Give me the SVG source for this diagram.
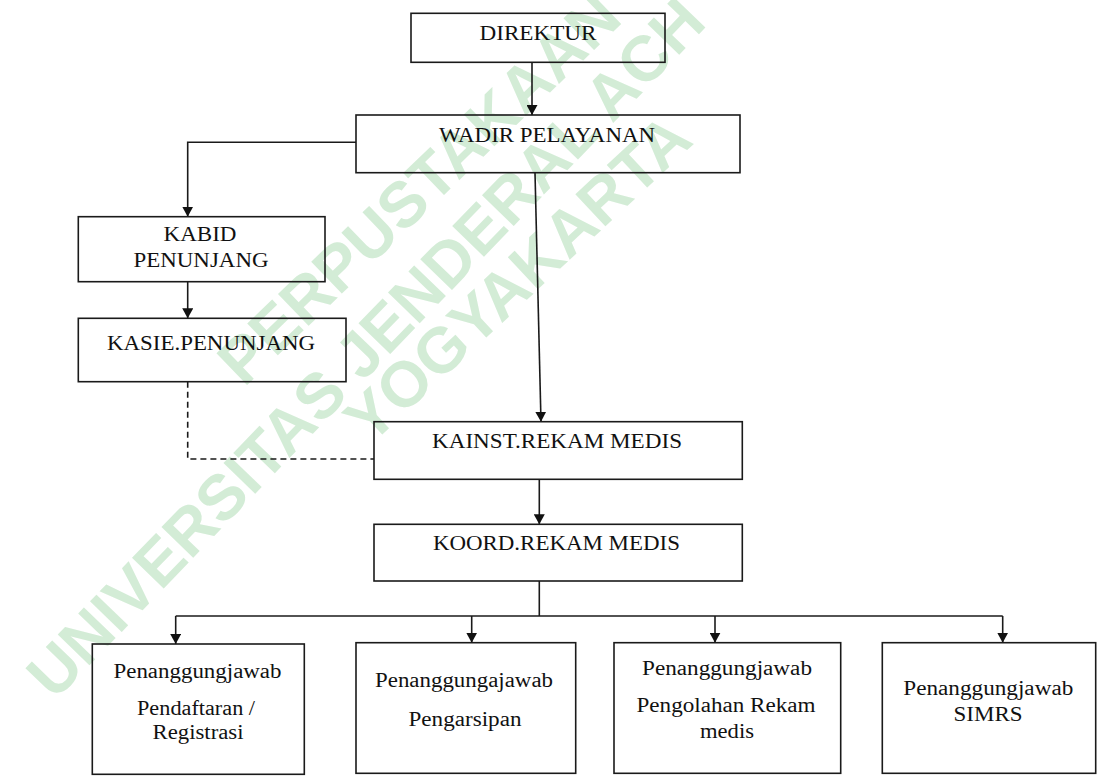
<svg xmlns="http://www.w3.org/2000/svg" width="1117" height="781" viewBox="0 0 1117 781">
  <style>
    .box { fill: none; stroke: #1a1a1a; stroke-width: 1.6; }
    .lbl { font-family: "Liberation Serif", "Times New Roman", serif; font-size: 20.5px; fill: #111; text-anchor: middle; }
    .con { fill: none; stroke: #1a1a1a; stroke-width: 1.6; }
    .dash { stroke-dasharray: 6 4; }
    .wm { font-family: "Liberation Sans", Arial, sans-serif; font-weight: bold; font-size: 64px; fill: #d3ecd6; }
  </style>
  <defs>
    <marker id="arr" markerUnits="userSpaceOnUse" viewBox="0 0 10 11" markerWidth="10" markerHeight="11" refX="10" refY="5.5" orient="auto">
      <path d="M0,0 L10,5.5 L0,11 z" fill="#111"/>
    </marker>
  </defs>
  <rect width="1117" height="781" fill="#fff"/>

  <g id="watermark">
    <text class="wm" transform="translate(244,388) rotate(-44)">PERPUSTAKAAN</text>
    <text class="wm" transform="translate(54.5,701.5) rotate(-46)">UNIVERSITAS JENDERAL ACH</text>
    <text class="wm" transform="translate(370,446) rotate(-43)">YOGYAKARTA</text>
  </g>

  <g id="connectors">
    <path class="con" d="M532,62.5 V115" marker-end="url(#arr)"/>
    <path class="con" d="M356,142.3 H187.7 V216.7" marker-end="url(#arr)"/>
    <path class="con" d="M187.7,281.7 V318.3" marker-end="url(#arr)"/>
    <path class="con dash" d="M187.7,381.7 V459 H374"/>
    <path class="con" d="M535,172.7 L541,421.7" stroke="#444" marker-end="url(#arr)"/>
    <path class="con" d="M539.3,479.3 V524.3" marker-end="url(#arr)"/>
    <path class="con" d="M539.3,581 V616"/>
    <path class="con" d="M175.7,616 H1002.7"/>
    <path class="con" d="M175.7,616 V644" marker-end="url(#arr)"/>
    <path class="con" d="M471.7,616 V642.7" marker-end="url(#arr)"/>
    <path class="con" d="M715,616 V642.7" marker-end="url(#arr)"/>
    <path class="con" d="M1002.7,616 V642.7" marker-end="url(#arr)"/>
  </g>

  <g id="direktur">
    <rect class="box" x="411" y="13.3" width="254" height="49"/>
    <text class="lbl" x="538" y="40" textLength="117" lengthAdjust="spacingAndGlyphs">DIREKTUR</text>
  </g>
  <g id="wadir">
    <rect class="box" x="356" y="115" width="384" height="57.7"/>
    <text class="lbl" x="547" y="141.5" textLength="216" lengthAdjust="spacingAndGlyphs">WADIR PELAYANAN</text>
  </g>
  <g id="kabid">
    <rect class="box" x="78.3" y="216.7" width="246.7" height="65"/>
    <text class="lbl" x="200" y="240.5" textLength="73" lengthAdjust="spacingAndGlyphs">KABID</text>
    <text class="lbl" x="201" y="266.5" textLength="135" lengthAdjust="spacingAndGlyphs">PENUNJANG</text>
  </g>
  <g id="kasie">
    <rect class="box" x="78.3" y="318.3" width="267.7" height="63.4"/>
    <text class="lbl" x="211" y="350" textLength="208" lengthAdjust="spacingAndGlyphs">KASIE.PENUNJANG</text>
  </g>
  <g id="kainst">
    <rect class="box" x="374" y="421.7" width="368.3" height="57.6"/>
    <text class="lbl" x="557" y="448.3" textLength="250" lengthAdjust="spacingAndGlyphs">KAINST.REKAM MEDIS</text>
  </g>
  <g id="koord">
    <rect class="box" x="374" y="524.3" width="368.3" height="56.7"/>
    <text class="lbl" x="556.4" y="550" textLength="247" lengthAdjust="spacingAndGlyphs">KOORD.REKAM MEDIS</text>
  </g>
  <g id="pj-pendaftaran">
    <rect class="box" x="92.3" y="644" width="212" height="130.3"/>
    <text class="lbl" x="197.5" y="677.5" textLength="168" lengthAdjust="spacingAndGlyphs">Penanggungjawab</text>
    <text class="lbl" x="196" y="715" textLength="118" lengthAdjust="spacingAndGlyphs">Pendaftaran /</text>
    <text class="lbl" x="198" y="738.5" textLength="91" lengthAdjust="spacingAndGlyphs">Registrasi</text>
  </g>
  <g id="pj-pengarsipan">
    <rect class="box" x="356" y="642.7" width="219.7" height="130.6"/>
    <text class="lbl" x="464" y="687" textLength="178" lengthAdjust="spacingAndGlyphs">Penanggungajawab</text>
    <text class="lbl" x="465" y="726" textLength="113" lengthAdjust="spacingAndGlyphs">Pengarsipan</text>
  </g>
  <g id="pj-pengolahan">
    <rect class="box" x="614" y="642.7" width="226.7" height="130.6"/>
    <text class="lbl" x="727" y="674.5" textLength="170" lengthAdjust="spacingAndGlyphs">Penanggungjawab</text>
    <text class="lbl" x="726" y="712" textLength="179" lengthAdjust="spacingAndGlyphs">Pengolahan Rekam</text>
    <text class="lbl" x="727" y="737.5" textLength="54" lengthAdjust="spacingAndGlyphs">medis</text>
  </g>
  <g id="pj-simrs">
    <rect class="box" x="882.3" y="642.7" width="213.4" height="130.6"/>
    <text class="lbl" x="988.3" y="694.5" textLength="170" lengthAdjust="spacingAndGlyphs">Penanggungjawab</text>
    <text class="lbl" x="988" y="721" textLength="69" lengthAdjust="spacingAndGlyphs">SIMRS</text>
  </g>
</svg>
